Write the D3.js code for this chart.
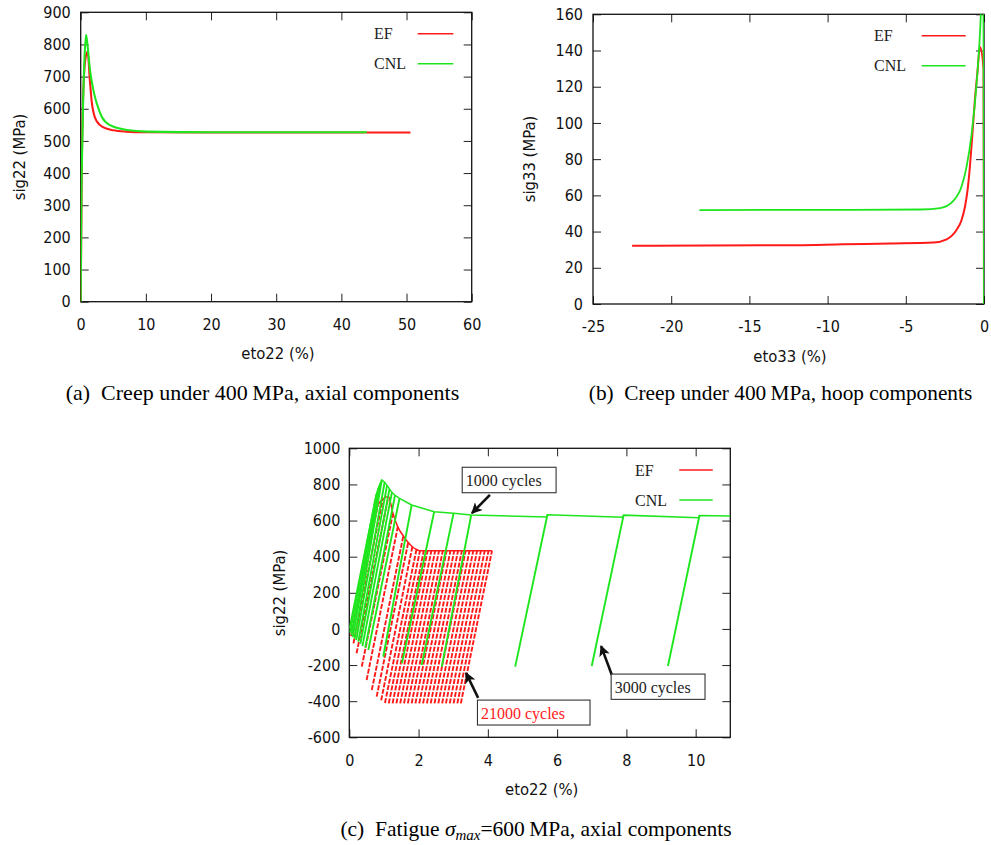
<!DOCTYPE html>
<html>
<head>
<meta charset="utf-8">
<title>Creep and fatigue curves</title>
<script src="https://cdnjs.cloudflare.com/ajax/libs/d3/7.8.5/d3.min.js"></script>
<style>
  body { margin: 0; background: #fff; }
  .axis .tick text {
    font-family: "DejaVu Sans Condensed", "DejaVu Sans", sans-serif;
    font-stretch: condensed;
    font-size: 16px;
    fill: #111;
  }
  .axis .tick line { stroke: #222; }
  .axis .domain { display: none; }
  .axis-title {
    font-family: "DejaVu Sans Condensed", "DejaVu Sans", sans-serif;
    font-stretch: condensed;
    font-size: 16.5px;
    fill: #111;
  }
  .legend, .note {
    font-family: "Liberation Serif", "Times New Roman", serif;
    font-size: 16px;
    fill: #222;
  }
  .caption {
    font-family: "Liberation Serif", "Times New Roman", serif;
    font-size: 22px;
    fill: #000;
  }
</style>
</head>
<body>
<svg id="fig" width="991" height="845"></svg>
<script>
// ---- data ----

// (a) creep, axial: [eto22 %, sig22 MPa]
const creepAxialEF = [[0,0],[0.15,380],[0.45,680],[0.8,765],[1.07,777],[1.4,690],[1.7,620],[2.0,585],
  [2.5,560],[3.5,542],[5,533],[7,529],[10,527],[20,526],[35,526],[50.6,526]];
const creepAxialCNL = [[0,0],[0.1,300],[0.25,500],[0.55,740],[0.82,830],[1.0,805],[1.43,720],[1.94,658],
  [2.46,617],[3.23,575],[4.5,549],[7.1,534],[10.2,529],[20,527],[43.9,527]];
const axialXTicks = [0,10,20,30,40,50,60];
const axialYTicks = [0,100,200,300,400,500,600,700,800,900];

// (b) creep, hoop: [eto33 %, sig33 MPa]
const creepHoopEF = [[0,0],[-0.03,130],[-0.26,142],[-0.42,128],[-0.58,113],[-0.74,94],[-0.9,76],[-1.05,63],
  [-1.21,54],[-1.45,46],[-1.75,41],[-2.39,35.7],[-3.24,33.9],[-6,33.4],[-9,33],[-12,32.5],[-22.5,32.2]];
const creepHoopCNL = [[0,0],[-0.04,172],[-0.15,168],[-0.26,149],[-0.47,122],[-0.79,94],[-1.11,76],[-1.43,65],
  [-1.96,57],[-2.8,53],[-4,52.2],[-10,52],[-18.2,51.9]];
const hoopXTicks = [-25,-20,-15,-10,-5,0];
const hoopYTicks = [0,20,40,60,80,100,120,140,160];

// (c) fatigue: each tooth is [bottom eto, bottom sig, top eto, top sig]
const fatigueEFTeeth = [
  [0.05,-40,0.83,690],[0.12,-80,0.97,720],[0.21,-135,1.13,733],[0.36,-209,1.26,640],[0.50,-283,1.40,565],
  [0.65,-338,1.56,515],[0.79,-375,1.70,478],[0.92,-395,1.82,455],[1.03,-410,1.94,440],
  [1.14,-412,2.04,433],[1.25,-412,2.15,433],[1.36,-412,2.26,433],[1.47,-412,2.37,433],[1.58,-412,2.48,433],
  [1.69,-412,2.59,433],[1.80,-412,2.70,433],[1.91,-412,2.81,433],[2.02,-412,2.92,433],[2.13,-412,3.03,433],
  [2.24,-412,3.14,433],[2.35,-412,3.25,433],[2.46,-412,3.36,433],[2.57,-412,3.47,433],[2.68,-412,3.58,433],
  [2.79,-412,3.69,433],[2.90,-412,3.80,433],[3.01,-412,3.91,433],[3.12,-412,4.02,433],[3.22,-412,4.12,433]
];
const fatigueEFEnvelope = [[0.83,690],[0.97,720],[1.13,733],[1.26,640],[1.40,565],[1.56,515],[1.70,478],
  [1.82,455],[1.94,440],[2.04,433],[4.12,433]];
const fatigueCNLTeeth = [
  [0.02,-20,0.78,745],[0.06,-35,0.84,780],[0.10,-45,0.89,805],[0.15,-55,0.94,825],[0.20,-62,1.02,812],
  [0.26,-70,1.09,795],[0.32,-82,1.16,775],[0.38,-95,1.23,756],[0.46,-105,1.32,740],[0.55,-117,1.45,723],
  [0.98,-154,1.80,686],[1.52,-190,2.45,649],[2.09,-200,3.01,640],[2.67,-209,3.52,631],
  [4.79,-209,5.72,632],[7.00,-205,7.92,630],[9.20,-205,10.11,628]
];
const fatigueCNLEnvelope = [[0,0],[0.78,745],[0.84,780],[0.89,805],[0.94,825],[1.02,812],[1.09,795],[1.16,775],
  [1.23,756],[1.32,740],[1.45,723],[1.80,686],[2.45,649],[3.01,640],[3.52,631],[5.70,620],[5.72,632],
  [7.90,618],[7.92,630],[10.09,616],[10.11,628],[11,625]];
const fatigueXTicks = [0,2,4,6,8,10];
const fatigueYTicks = [-600,-400,-200,0,200,400,600,800,1000];

// annotations in data coordinates: box [x0, yTop, x1, yBottom], arrow [from, to]
const fatigueNotes = [
  { text: "1000 cycles",  color: "#222", box: [3.26, 895, 5.97, 754],   arrow: [[4.06, 742], [3.54, 641]] },
  { text: "21000 cycles", color: "#ff2020", box: [3.70, -394, 6.95, -532], arrow: [[3.72, -382], [3.37, -244]] },
  { text: "3000 cycles",  color: "#222", box: [7.56, -250, 10.27, -390], arrow: [[7.58, -255], [7.27, -95]] }
];

const RED = "#ff1a1a";
const GREEN = "#1ee61e";

let svg = d3.select("svg#fig");
let defs = svg.append("defs");

defs.append("marker")
    .attr("id", "arrowhead")
    .attr("viewBox", "0 0 10 10")
    .attr("refX", 9).attr("refY", 5)
    .attr("markerWidth", 12).attr("markerHeight", 11)
    .attr("markerUnits", "userSpaceOnUse")
    .attr("orient", "auto")
  .append("path")
    .attr("d", "M0,0 L10,5 L0,10 L2.5,5 z")
    .attr("fill", "#111");

function drawPanel(p) {
  const g = svg.append("g").attr("id", "panel-" + p.id);
  const x = d3.scaleLinear().domain(p.xDomain).range([p.left, p.right]);
  const y = d3.scaleLinear().domain(p.yDomain).range([p.bottom, p.top]);

  defs.append("clipPath").attr("id", "clip-" + p.id)
    .append("rect")
      .attr("x", p.left).attr("y", p.top)
      .attr("width", p.right - p.left).attr("height", p.bottom - p.top);

  // gnuplot style: ticks point inward on all four sides
  g.append("g").attr("class", "axis")
    .attr("transform", `translate(${p.left},0)`)
    .call(d3.axisLeft(y).tickValues(p.yTicks).tickSize(-8).tickPadding(p.yPad).tickFormat(d => String(d)));
  g.append("g").attr("class", "axis")
    .attr("transform", `translate(${p.right},0)`)
    .call(d3.axisRight(y).tickValues(p.yTicks).tickSize(-8).tickFormat(""));
  g.append("g").attr("class", "axis")
    .attr("transform", `translate(0,${p.bottom})`)
    .call(d3.axisBottom(x).tickValues(p.xTicks).tickSize(-8).tickPadding(17).tickFormat(d => String(d)));
  g.append("g").attr("class", "axis")
    .attr("transform", `translate(0,${p.top})`)
    .call(d3.axisTop(x).tickValues(p.xTicks).tickSize(-8).tickFormat(""));

  g.append("rect")
    .attr("x", p.left).attr("y", p.top)
    .attr("width", p.right - p.left).attr("height", p.bottom - p.top)
    .attr("fill", "none").attr("stroke", "#111").attr("stroke-width", 1.3);

  // axis titles
  g.append("text").attr("class", "axis-title")
    .attr("text-anchor", "middle")
    .attr("transform", `translate(${p.yTitlePos[0]},${p.yTitlePos[1]}) rotate(-90)`)
    .text(p.yTitle);
  g.append("text").attr("class", "axis-title")
    .attr("text-anchor", "middle")
    .attr("x", p.xTitlePos[0]).attr("y", p.xTitlePos[1])
    .text(p.xTitle);

  const plot = g.append("g").attr("clip-path", `url(#clip-${p.id})`);
  const line = d3.line().x(d => x(d[0])).y(d => y(d[1]));
  const smooth = d3.line().curve(d3.curveMonotoneX).x(d => x(d[0])).y(d => y(d[1]));

  // legend
  const lg = g.append("g");
  p.series.forEach((s, i) => {
    const ly = p.top + p.legend.y0 + i * 30;
    lg.append("text").attr("class", "legend")
      .attr("x", p.right - p.legend.textOff).attr("y", ly + 5.5)
      .text(s.name);
    lg.append("line")
      .attr("x1", p.right - p.legend.lineFrom).attr("x2", p.right - p.legend.lineTo)
      .attr("y1", ly).attr("y2", ly)
      .attr("stroke", s.color).attr("stroke-width", 1.6);
  });

  return { g, plot, x, y, line, smooth };
}

// ---------- (a) ----------
let pa = drawPanel({
  id: "a", left: 80.7, right: 471.7, top: 12.3, bottom: 301.7,
  xDomain: [0, 60], yDomain: [0, 900], xTicks: axialXTicks, yTicks: axialYTicks, yPad: 10,
  xTitle: "eto22 (%)", yTitle: "sig22 (MPa)", xTitlePos: [278, 359], yTitlePos: [25, 157],
  legend: { y0: 21.4, textOff: 97.7, lineFrom: 54, lineTo: 18.4 },
  series: [{ name: "EF", color: RED }, { name: "CNL", color: GREEN }]
});
pa.plot.append("path").datum(creepAxialEF)
  .attr("d", pa.smooth).attr("fill", "none").attr("stroke", RED).attr("stroke-width", 2.1);
pa.plot.append("path").datum(creepAxialCNL)
  .attr("d", pa.smooth).attr("fill", "none").attr("stroke", GREEN).attr("stroke-width", 2.1);

// ---------- (b) ----------
let pb = drawPanel({
  id: "b", left: 593, right: 984, top: 14.3, bottom: 304,
  xDomain: [-25, 0], yDomain: [0, 160], xTicks: hoopXTicks, yTicks: hoopYTicks, yPad: 10,
  xTitle: "eto33 (%)", yTitle: "sig33 (MPa)", xTitlePos: [790, 362], yTitlePos: [535, 159],
  legend: { y0: 21.4, textOff: 110, lineFrom: 62.3, lineTo: 18.3 },
  series: [{ name: "EF", color: RED }, { name: "CNL", color: GREEN }]
});
pb.plot.append("path").datum(creepHoopEF)
  .attr("d", pb.smooth).attr("fill", "none").attr("stroke", RED).attr("stroke-width", 2);
pb.plot.append("path").datum(creepHoopCNL)
  .attr("d", pb.smooth).attr("fill", "none").attr("stroke", GREEN).attr("stroke-width", 1.8);

// ---------- (c) ----------
let pc = drawPanel({
  id: "c", left: 349.3, right: 730.3, top: 448.3, bottom: 737.3,
  xDomain: [0, 11], yDomain: [-600, 1000], xTicks: fatigueXTicks, yTicks: fatigueYTicks, yPad: 9,
  xTitle: "eto22 (%)", yTitle: "sig22 (MPa)", xTitlePos: [541.7, 795], yTitlePos: [285, 593],
  legend: { y0: 21.7, textOff: 95.3, lineFrom: 51, lineTo: 17.6 },
  series: [{ name: "EF", color: RED }, { name: "CNL", color: GREEN }]
});

pc.plot.selectAll("path.ef-tooth")
  .data(fatigueEFTeeth)
  .join("path")
    .attr("class", "ef-tooth")
    .attr("d", d => pc.line([[d[0], d[1]], [d[2], d[3]]]))
    .attr("fill", "none").attr("stroke", RED).attr("stroke-width", 1.9)
    .attr("stroke-dasharray", "5,1.6");
pc.plot.append("path").datum(fatigueEFEnvelope)
  .attr("d", pc.smooth).attr("fill", "none").attr("stroke", RED).attr("stroke-width", 1.5);

pc.plot.selectAll("path.cnl-tooth")
  .data(fatigueCNLTeeth)
  .join("path")
    .attr("class", "cnl-tooth")
    .attr("d", d => pc.line([[d[0], d[1]], [d[2], d[3]]]))
    .attr("fill", "none").attr("stroke", GREEN).attr("stroke-width", 1.9);
pc.plot.append("path").datum(fatigueCNLEnvelope)
  .attr("d", pc.line).attr("fill", "none").attr("stroke", GREEN).attr("stroke-width", 1.5);

// annotation boxes and arrows
fatigueNotes.forEach(n => {
  const bx0 = pc.x(n.box[0]), bx1 = pc.x(n.box[2]);
  const by0 = pc.y(n.box[1]), by1 = pc.y(n.box[3]);
  pc.g.append("line")
    .attr("x1", pc.x(n.arrow[0][0])).attr("y1", pc.y(n.arrow[0][1]))
    .attr("x2", pc.x(n.arrow[1][0])).attr("y2", pc.y(n.arrow[1][1]))
    .attr("stroke", "#111").attr("stroke-width", 2.6)
    .attr("marker-end", "url(#arrowhead)");
  pc.g.append("rect")
    .attr("x", bx0).attr("y", by0).attr("width", bx1 - bx0).attr("height", by1 - by0)
    .attr("fill", "#fff").attr("stroke", "#333").attr("stroke-width", 1.1);
  pc.g.append("text").attr("class", "note")
    .attr("x", bx0 + 3.5).attr("y", by0 + 19)
    .style("fill", n.color)
    .text(n.text);
});

// ---------- captions ----------
svg.append("text").attr("class", "caption")
  .attr("x", 262.5).attr("y", 400).attr("text-anchor", "middle")
  .text("(a)\u2002Creep under 400\u2009MPa, axial components");
svg.append("text").attr("class", "caption")
  .attr("x", 780.5).attr("y", 400).attr("text-anchor", "middle")
  .style("font-size", "21.3px")
  .text("(b)\u2002Creep under 400\u2009MPa, hoop components");

let capC = svg.append("text").attr("class", "caption")
  .attr("x", 536).attr("y", 836).attr("text-anchor", "middle")
  .style("font-size", "21.5px");
capC.append("tspan").text("(c)\u2002Fatigue ");
capC.append("tspan").style("font-style", "italic").text("\u03c3");
capC.append("tspan").style("font-style", "italic").style("font-size", "15px").attr("dy", 4).text("max");
capC.append("tspan").attr("dy", -4).text("=600\u2009MPa, axial components");
</script>
</body>
</html>
